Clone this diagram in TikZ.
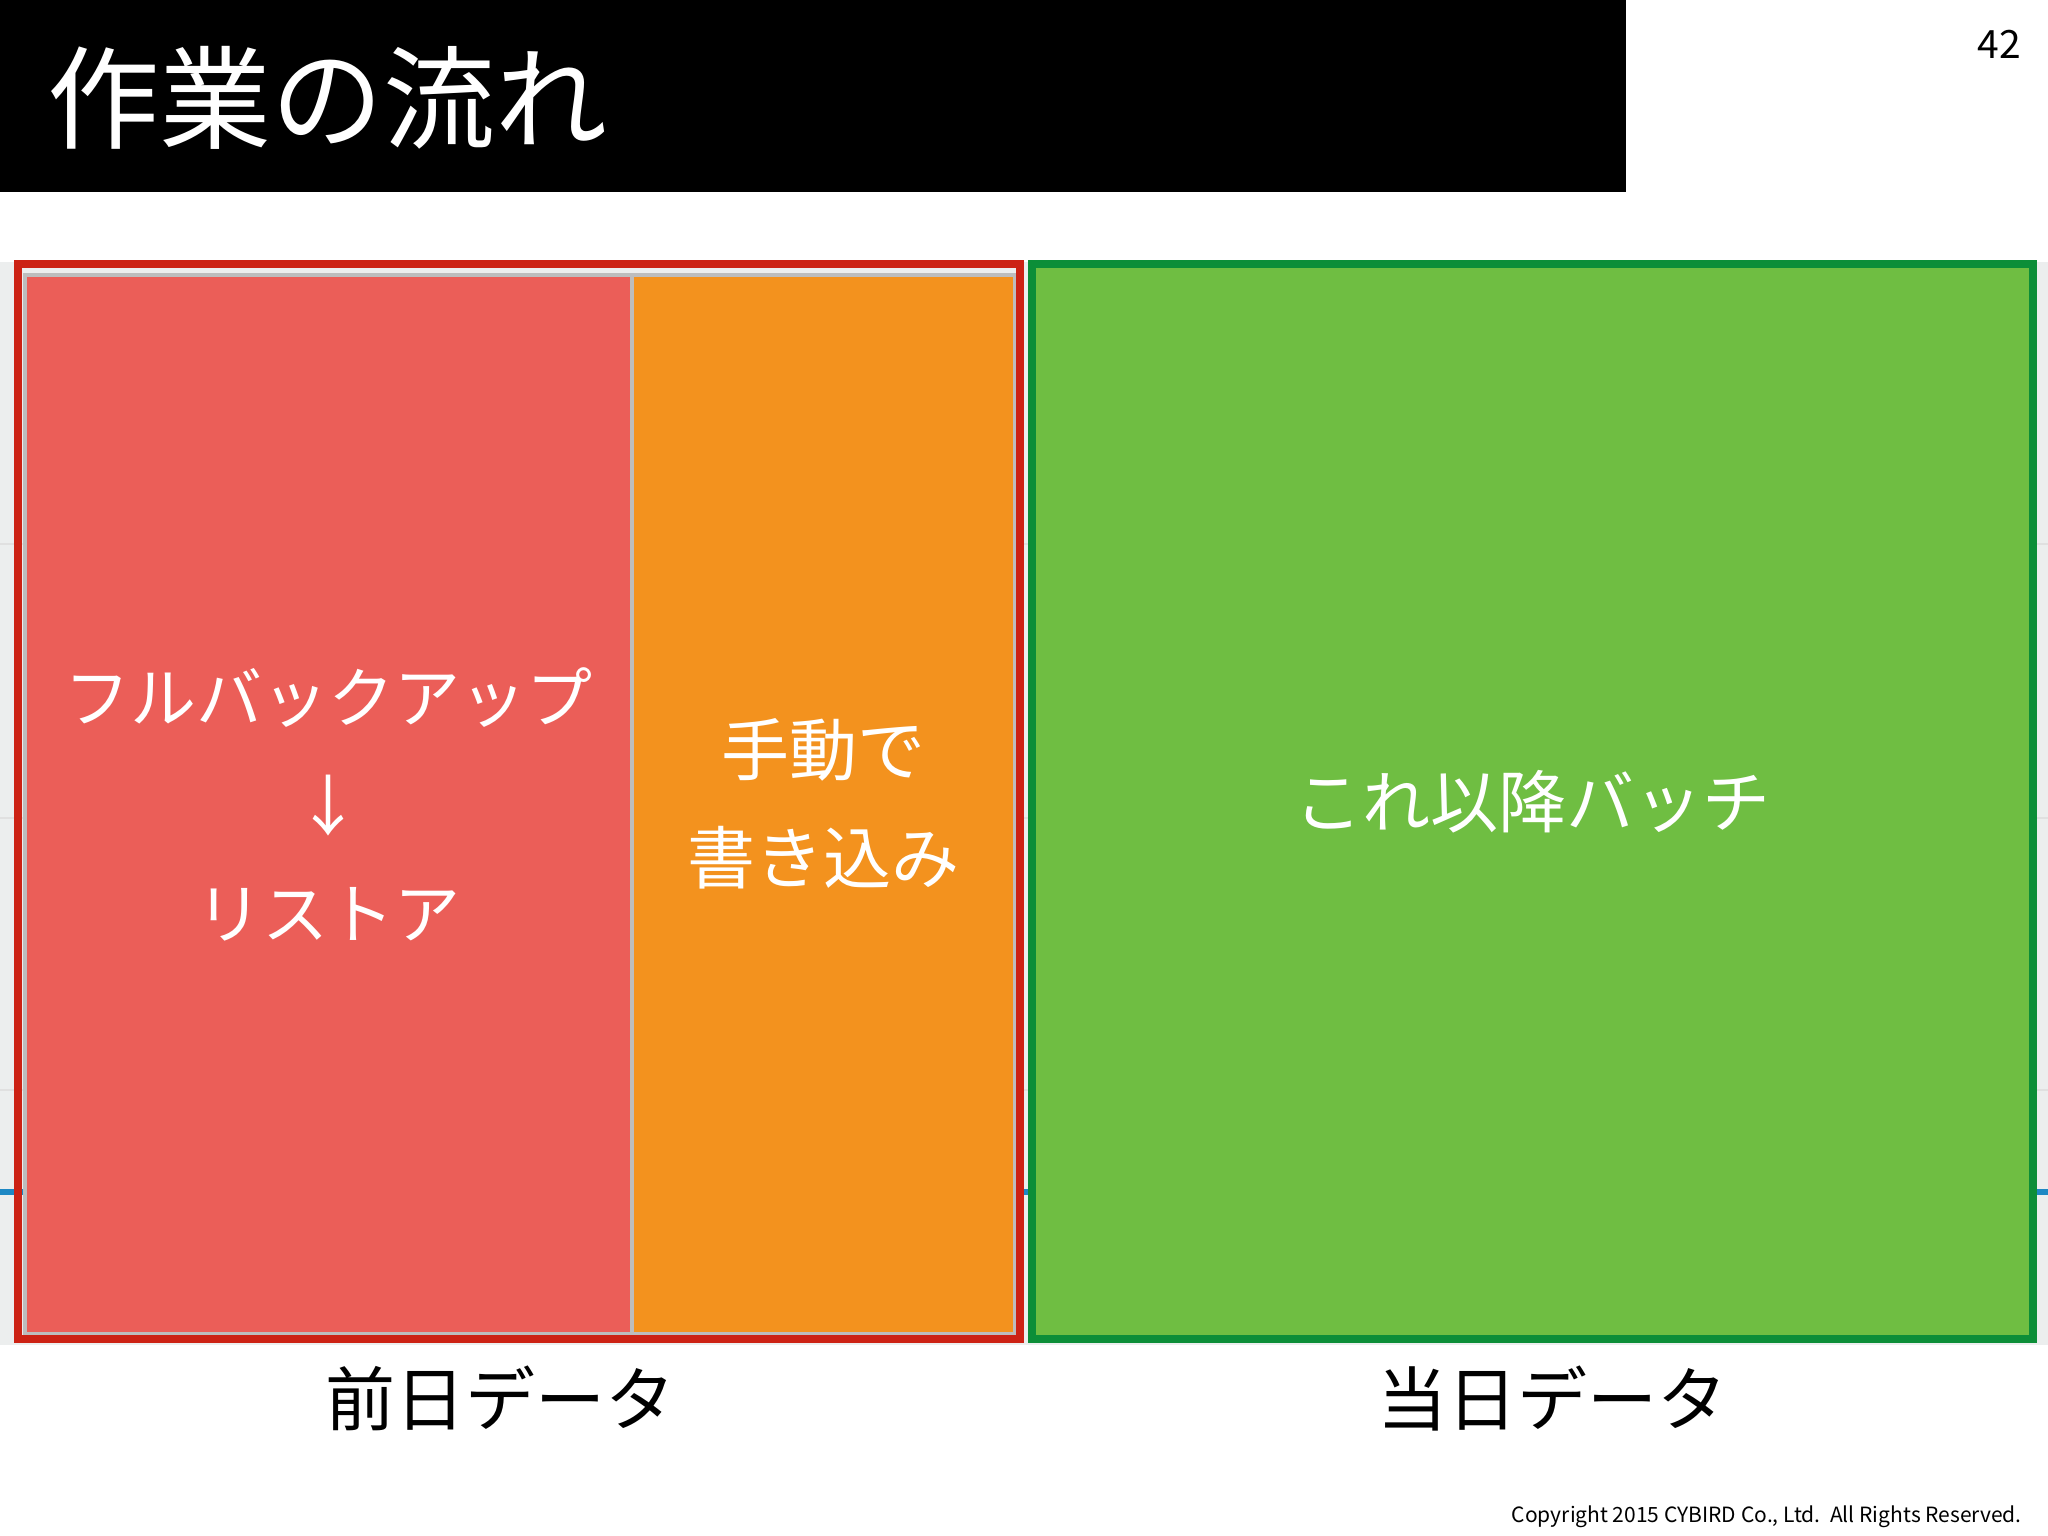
\documentclass[tikz,border=0pt]{standalone}
\usepackage{fontspec}
\setmainfont{Noto Sans CJK JP}
\usetikzlibrary{positioning}

\definecolor{salmon}{RGB}{235,94,88}
\definecolor{orangefill}{RGB}{243,146,30}
\definecolor{greenfill}{RGB}{111,190,66}
\definecolor{redline}{RGB}{204,34,20}
\definecolor{greenline}{RGB}{12,142,56}
\definecolor{chartbg}{RGB}{236,238,238}
\definecolor{chartblue}{RGB}{30,136,196}

\begin{document}
\begin{tikzpicture}[x=1pt,y=-1pt,
    block/.style={inner sep=0pt,text=white,align=center,font=\fontsize{68}{108}\selectfont},
    frame/.style={line width=8pt,inner sep=0pt,minimum height=1075pt},
    caption/.style={inner sep=0pt,text=black,font=\fontsize{70}{80}\selectfont}]
    \useasboundingbox (0,0) rectangle (2048,1536);
    % chart behind the boxes
    \fill[chartbg] (0,262) rectangle (2048,1345);
    \foreach \y in {544,818,1090}
        \draw[black!12,line width=2pt] (0,\y) -- (2048,\y);
    \draw[chartblue,line width=6pt] (0,1192) -- (2048,1192);
    % title bar
    \fill[black] (0,0) rectangle (1626,192);
    \node[inner sep=0pt,anchor=west,text=white,font=\fontsize{112}{120}\selectfont](title)at(47, 98){作業の流れ};
    \node[inner sep=0pt,anchor=east,font=\fontsize{39}{44}\selectfont](page)at(2021, 44){42};
    % previous day
    \node[block,fill=salmon,draw=black!26,line width=4pt,minimum width=607pt,minimum height=1059pt,font=\fontsize{66}{108}\selectfont](restore)at(328, 804){フルバックアップ\\↓\\リストア};
    \node[block,fill=orangefill,draw=black!26,line width=4pt,minimum width=383pt,minimum height=1059pt](manual)at(823, 804){手動で\\書き込み};
    \node[frame,draw=redline,minimum width=1002pt](prev)at(519, 801.5){};
    % current day
    \node[frame,block,fill=greenfill,draw=greenline,minimum width=1001pt](batch)at(1532.5, 801.5){これ以降バッチ};
    \node[caption](prevlabel)at(500, 1398){前日データ};
    \node[caption](currlabel)at(1552, 1398){当日データ};
    \node[inner sep=0pt,anchor=east,font=\fontsize{21}{24}\selectfont](copy)at(2022, 1517){Copyright 2015 CYBIRD Co., Ltd.\ \ All Rights Reserved.};
\end{tikzpicture}
\end{document}
